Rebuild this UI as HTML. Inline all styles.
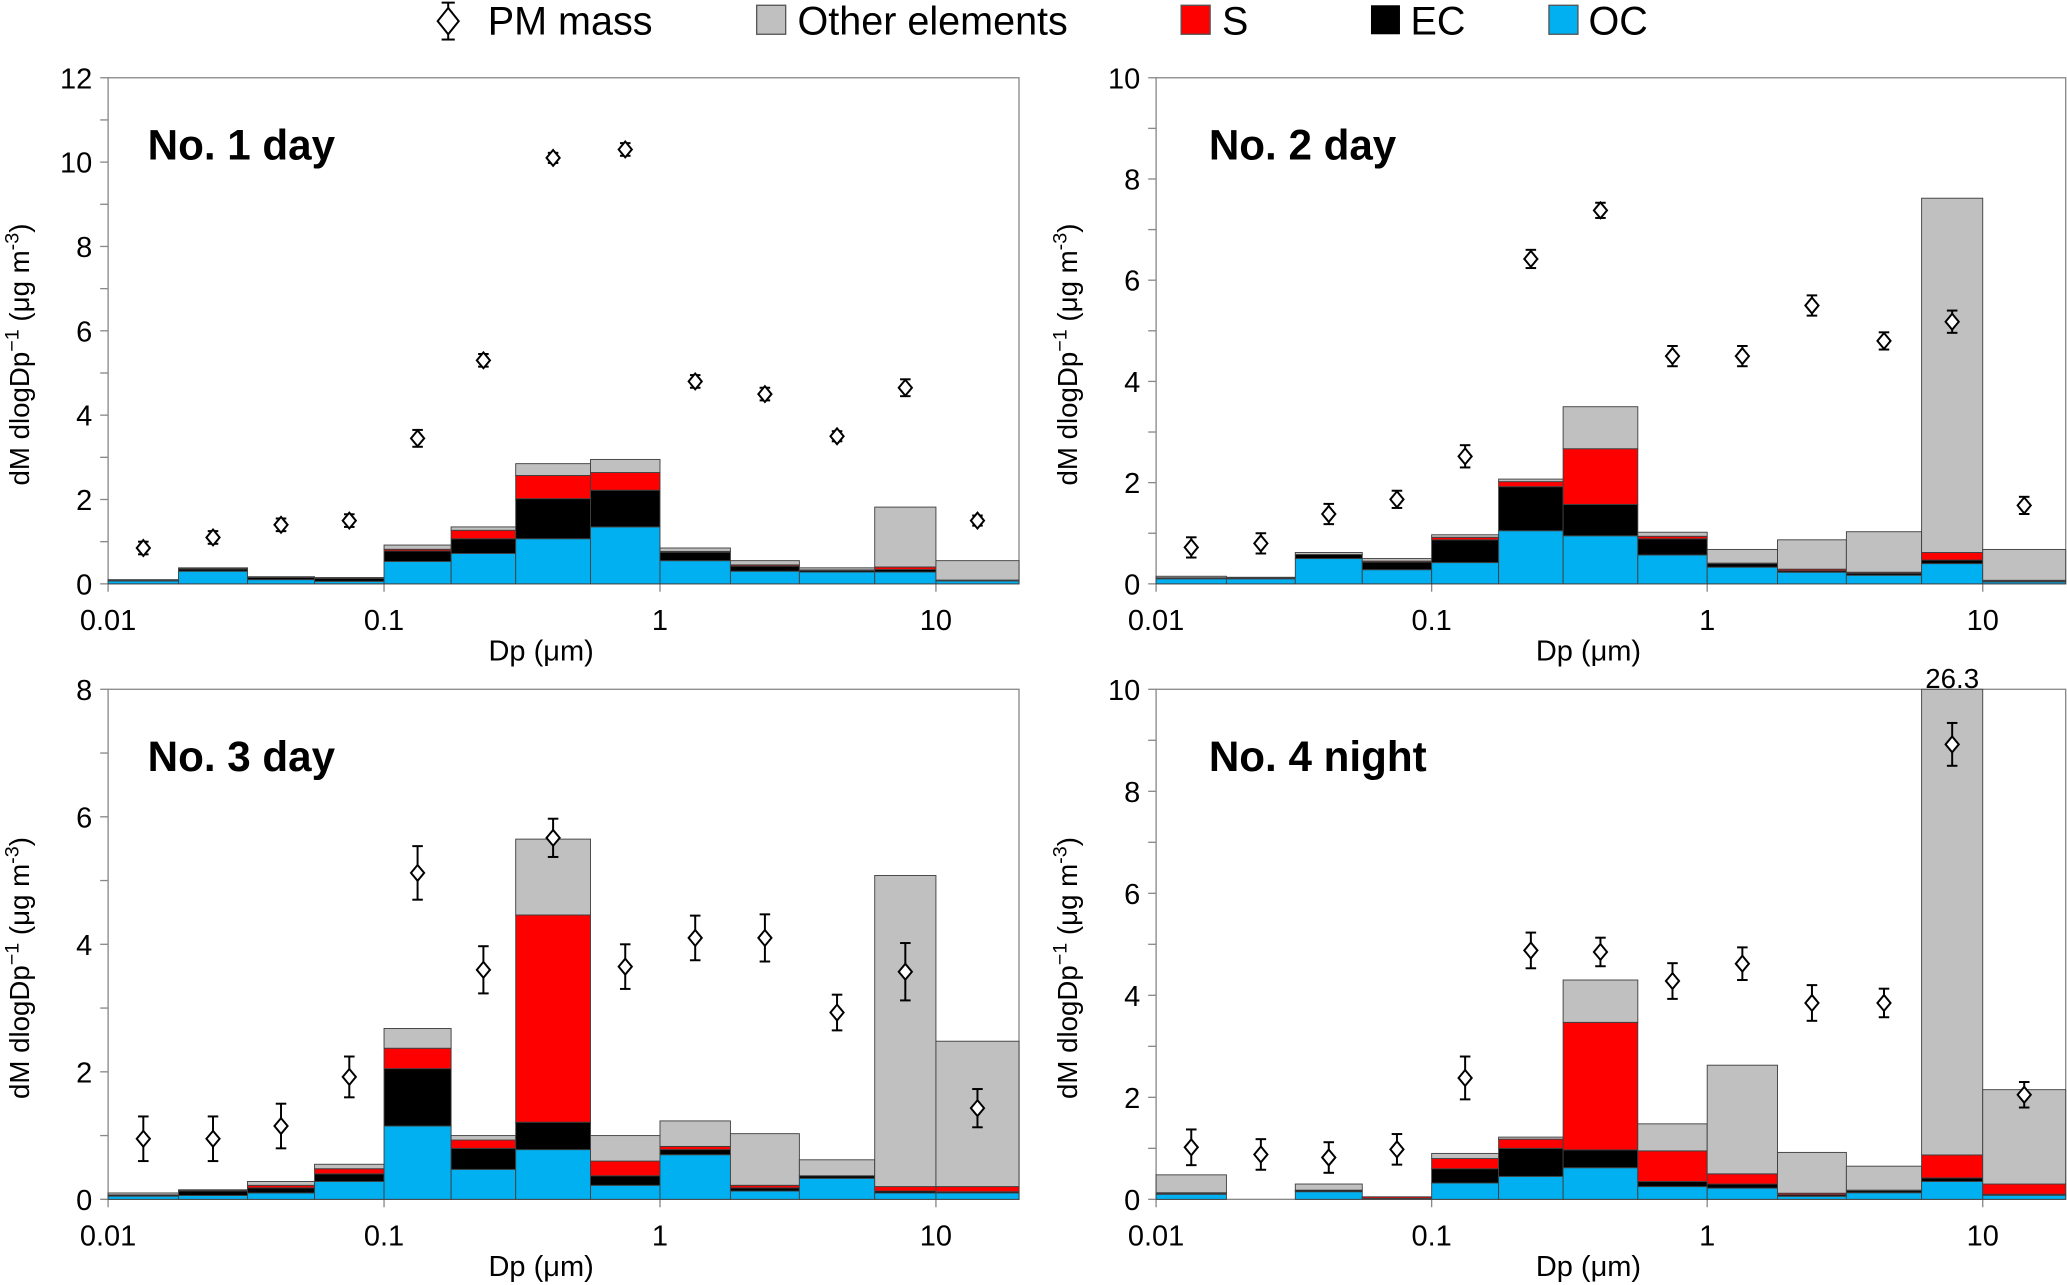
<!DOCTYPE html>
<html><head><meta charset="utf-8"><style>
html,body{margin:0;padding:0;background:#fff;}
svg{display:block;font-family:"Liberation Sans",Arial,sans-serif;}
</style></head><body>
<svg id="chart" width="2067" height="1285" viewBox="0 0 1568 975" preserveAspectRatio="none" xmlns="http://www.w3.org/2000/svg">
<g>
  <g>
    <line x1="340" y1="2" x2="340" y2="30" stroke="#000" stroke-width="1.5"/>
    <line x1="335" y1="2" x2="345" y2="2" stroke="#000" stroke-width="1.5"/>
    <line x1="335" y1="30" x2="345" y2="30" stroke="#000" stroke-width="1.5"/>
    <polygon points="340,6 348,16 340,26 332,16" fill="#fff" stroke="#000" stroke-width="1.5"/>
    <text x="370" y="26" font-size="30">PM mass</text>
  </g>
  <g>
    <rect x="574" y="4" width="22" height="22" fill="#C0C0C0" stroke="#555"/>
    <text x="605" y="26" font-size="30">Other elements</text>
  </g>
  <g>
    <rect x="896" y="4" width="22" height="22" fill="#FF0000" stroke="#555"/>
    <text x="927" y="26" font-size="30">S</text>
  </g>
  <g>
    <rect x="1040" y="4" width="22" height="22" fill="#000"/>
    <text x="1070" y="26" font-size="30">EC</text>
  </g>
  <g>
    <rect x="1175" y="4" width="22" height="22" fill="#00B0F0" stroke="#555"/>
    <text x="1205" y="26" font-size="30">OC</text>
  </g>
</g>
</svg>
<script>
// Bin edges (µm)
const binEdges = [0.01,0.018,0.032,0.056,0.1,0.175,0.3,0.56,1.0,1.8,3.2,6.0,10,20];
// Panel 1
const p1Title = "No. 1 day";
const p1PM  = [0.85,1.1,1.4,1.5,3.45,5.3,10.1,10.3,4.8,4.5,3.5,4.65,1.5];
const p1Err = [0.15,0.15,0.15,0.15,0.2,0.15,0.12,0.15,0.15,0.15,0.12,0.2,0.12];
const p1OC = [0.07,0.3,0.1,0.06,0.53,0.72,1.07,1.35,0.55,0.3,0.28,0.28,0.07];
const p1EC = [0.01,0.05,0.05,0.07,0.25,0.35,0.95,0.87,0.2,0.12,0.04,0.06,0.01];
const p1S  = [0,0.01,0,0,0.04,0.2,0.55,0.42,0.02,0.03,0.01,0.06,0.01];
const p1Other = [0.02,0.02,0.02,0.02,0.1,0.08,0.28,0.31,0.08,0.1,0.05,1.42,0.46];
// Panel 2
const p2Title = "No. 2 day";
const p2PM  = [0.72,0.8,1.38,1.67,2.52,6.42,7.38,4.5,4.5,5.5,4.8,5.18,1.55];
const p2Err = [0.2,0.2,0.2,0.17,0.22,0.18,0.15,0.2,0.2,0.2,0.17,0.22,0.17];
const p2OC = [0.1,0.1,0.5,0.28,0.42,1.05,0.95,0.57,0.33,0.23,0.17,0.4,0.04];
const p2EC = [0.02,0.02,0.08,0.15,0.45,0.87,0.62,0.32,0.07,0.03,0.04,0.07,0.01];
const p2S  = [0,0,0,0.02,0.05,0.1,1.1,0.05,0.01,0.03,0.02,0.15,0.02];
const p2Other = [0.03,0.01,0.04,0.05,0.05,0.05,0.83,0.08,0.27,0.58,0.8,7.0,0.61];
// Panel 3
const p3Title = "No. 3 day";
const p3PM  = [0.95,0.95,1.15,1.92,5.12,3.6,5.67,3.65,4.1,4.1,2.93,3.57,1.43];
const p3Err = [0.35,0.35,0.35,0.32,0.42,0.37,0.3,0.35,0.35,0.37,0.28,0.45,0.3];
const p3OC = [0.05,0.06,0.1,0.28,1.15,0.47,0.78,0.22,0.7,0.13,0.33,0.1,0.1];
const p3EC = [0.02,0.07,0.08,0.12,0.9,0.33,0.43,0.15,0.08,0.05,0.04,0.03,0.02];
const p3S  = [0,0.01,0.04,0.08,0.32,0.13,3.25,0.23,0.05,0.04,0,0.07,0.08];
const p3Other = [0.03,0.01,0.06,0.07,0.31,0.07,1.19,0.4,0.4,0.81,0.25,4.88,2.28];
// Panel 4
const p4Title = "No. 4 night";
const p4PM  = [1.02,0.88,0.82,0.98,2.38,4.88,4.85,4.28,4.62,3.85,3.85,8.92,2.05];
const p4Err = [0.35,0.3,0.3,0.3,0.42,0.35,0.28,0.35,0.32,0.35,0.28,0.42,0.25];
const p4OC = [0.1,0,0.15,0.01,0.32,0.45,0.62,0.25,0.22,0.06,0.13,0.35,0.08];
const p4EC = [0.02,0,0.03,0.01,0.28,0.55,0.35,0.1,0.08,0.03,0.04,0.07,0.02];
const p4S  = [0.01,0,0,0.03,0.2,0.18,2.5,0.6,0.2,0.03,0.01,0.45,0.2];
const p4Other = [0.35,0,0.12,0,0.1,0.04,0.83,0.53,2.13,0.8,0.47,25.43,1.85];
const xTickValues = [0.01,0.1,1,10];
const xTickLabels = ["0.01","0.1","1","10"];

const NS = "http://www.w3.org/2000/svg";
const svg = document.getElementById('chart');
function mk(tag, attrs, parent){
  const e = document.createElementNS(NS, tag);
  for (const k in attrs) e.setAttribute(k, attrs[k]);
  parent.appendChild(e);
  return e;
}
const panels = [
  {id:1, t:p1Title, pm:p1PM, err:p1Err, oc:p1OC, ec:p1EC, s:p1S, ot:p1Other, L:82, R:773, T:59, B:443, ymax:12, tx:112},
  {id:2, t:p2Title, pm:p2PM, err:p2Err, oc:p2OC, ec:p2EC, s:p2S, ot:p2Other, L:877, R:1567, T:59, B:443, ymax:10, tx:917},
  {id:3, t:p3Title, pm:p3PM, err:p3Err, oc:p3OC, ec:p3EC, s:p3S, ot:p3Other, L:82, R:773, T:523, B:910, ymax:8, tx:112},
  {id:4, t:p4Title, pm:p4PM, err:p4Err, oc:p4OC, ec:p4EC, s:p4S, ot:p4Other, L:877, R:1567, T:523, B:910, ymax:10, tx:917, topLabel:"26.3"}
];
panels.forEach(p => {
  const g = mk('g', {}, svg);
  
  
  const xs = v => p.L + (Math.log10(v) - Math.log10(0.01)) / (Math.log10(20) - Math.log10(0.01)) * (p.R - p.L);
  const ys = v => p.B - Math.min(v, p.ymax) / p.ymax * (p.B - p.T);
  const frame = mk('rect', {x:p.L, y:p.T, width:p.R-p.L, height:p.B-p.T, fill:'none', stroke:'#888', 'stroke-width':1}, g);
  
  
  for (let v = 0; v <= p.ymax; v++) {
    const y = ys(v);
    const tk = mk('line', {x1:p.L-6, y1:y, x2:p.L, y2:y, stroke:'#888', 'stroke-width':1}, g);
    
    
    if (v % 2 === 0) {
      const tl = mk('text', {x:p.L-12, y:y+8, 'font-size':22, 'text-anchor':'end'}, g);
      tl.textContent = v;
      
      
    }
  }
  xTickValues.forEach((v, i) => {
    const x = xs(v);
    const tk = mk('line', {x1:x, y1:p.B, x2:x, y2:p.B+6, stroke:'#888', 'stroke-width':1}, g);
    
    
    const tl = mk('text', {x:x, y:p.B+35, 'font-size':22, 'text-anchor':'middle'}, g);
    tl.textContent = xTickLabels[i];
    
    
  });
  const xt = mk('text', {x:(p.L+p.R)/2 - 17, y:p.B+58, 'font-size':22, 'text-anchor':'middle'}, g);
  xt.textContent = 'Dp (μm)';
  
  
  const yc = (p.T+p.B)/2 + 18;
  const yt = mk('text', {x:0, y:0, 'font-size':21, 'text-anchor':'middle', transform:'translate(' + (p.L-60) + ',' + yc + ') rotate(-90)'}, g);
  
  
  yt.innerHTML = 'dM dlogDp<tspan dy="-8" font-size="15">−1</tspan><tspan dy="8"> (μg m</tspan><tspan dy="-8" font-size="15">-3</tspan><tspan dy="8">)</tspan>';
  binEdges.slice(0, -1).forEach((e0, i) => {
    const x0 = xs(e0), x1 = xs(binEdges[i+1]);
    let acc = 0;
    const layers = [[p.oc[i], '#00B0F0', 'oc'], [p.ec[i], '#000000', 'ec'], [p.s[i], '#FF0000', 's'], [p.ot[i], '#C0C0C0', 'other']];
    layers.forEach(([val, col, nm]) => {
      if (val <= 0) return;
      const yTop = ys(acc + val), yBot = ys(acc);
      acc += val;
      if (yBot - yTop <= 0) return;
      const r = mk('rect', {x:x0, y:yTop, width:x1-x0, height:yBot-yTop, fill:col, stroke:'#404040', 'stroke-width':0.7}, g);
      
      
    });
  });
  p.pm.forEach((v, i) => {
    const cx = xs(Math.sqrt(binEdges[i] * binEdges[i+1]));
    const cy = ys(v), yhi = ys(v + p.err[i]), ylo = ys(v - p.err[i]);
    const m = mk('g', {}, g);
    
    
    mk('line', {x1:cx, y1:yhi, x2:cx, y2:ylo, stroke:'#000', 'stroke-width':1.5}, m);
    mk('line', {x1:cx-4, y1:yhi, x2:cx+4, y2:yhi, stroke:'#000', 'stroke-width':1.5}, m);
    mk('line', {x1:cx-4, y1:ylo, x2:cx+4, y2:ylo, stroke:'#000', 'stroke-width':1.5}, m);
    mk('polygon', {points:cx+','+(cy-6)+' '+(cx+5)+','+cy+' '+cx+','+(cy+6)+' '+(cx-5)+','+cy, fill:'#fff', stroke:'#000', 'stroke-width':1.5}, m);
  });
  const tt = mk('text', {x:p.tx, y:p.T+62, 'font-size':32, 'font-weight':'bold'}, g);
  tt.textContent = p.t;
  
  
  if (p.topLabel) {
    const maxI = p.ot.indexOf(Math.max(...p.ot));
    const lx = xs(Math.sqrt(binEdges[maxI] * binEdges[maxI+1]));
    const tl = mk('text', {x:lx, y:p.T-1, 'font-size':21, 'text-anchor':'middle'}, g);
    tl.textContent = p.topLabel;
    
    
  }
});
</script>
</body></html>
